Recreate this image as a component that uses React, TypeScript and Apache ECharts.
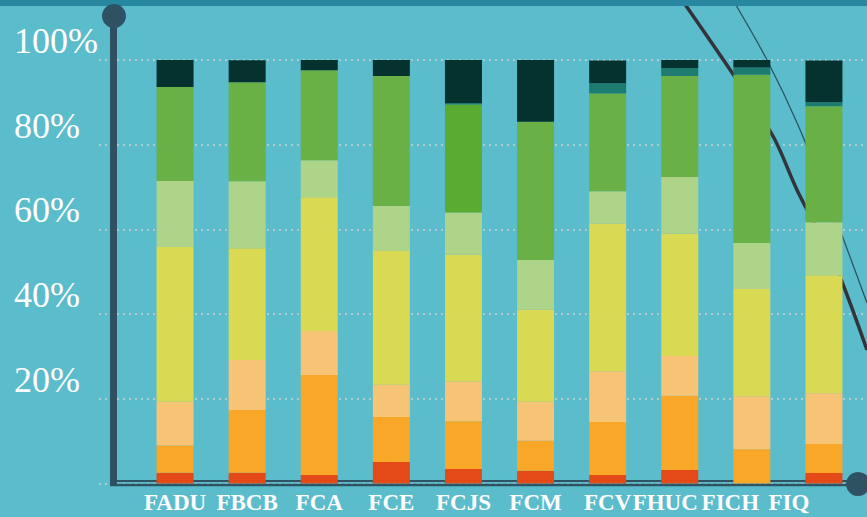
import React, { useEffect, useRef } from "react";
import * as echarts from "echarts";

const categories = ["FADU", "FBCB", "FCA", "FCE", "FCJS", "FCM", "FCV", "FHUC", "FICH", "FIQ"];
const yTicks = [0, 20, 40, 60, 80, 100];

const redValues = [2.55, 2.55, 2.0, 5.1, 3.4, 3.0, 2.0, 3.2, 0, 2.5];
const orangeValues = [6.4, 14.8, 23.6, 10.6, 11.3, 7.1, 12.5, 17.5, 8.1, 6.8];
const lightOrangeValues = [10.4, 11.8, 10.4, 7.6, 9.4, 9.2, 12.0, 9.4, 12.5, 12.0];
const yellowValues = [36.5, 26.4, 31.6, 31.6, 30.0, 21.7, 34.9, 28.9, 25.3, 27.9];
const lightGreenValues = [15.6, 15.8, 8.7, 10.6, 9.9, 11.8, 7.6, 13.4, 10.9, 12.5];
const greenValues = [22.2, 23.4, 21.3, 30.7, 25.5, 32.6, 23.1, 23.8, 39.7, 27.4];
const tealValues = [0, 0, 0, 0, 0.3, 0, 2.4, 1.9, 1.7, 0.9];
const darkValues = [6.4, 5.2, 2.4, 3.8, 10.2, 14.6, 5.4, 1.9, 1.9, 9.9];

const seriesDefs = [
  { name: "red", values: redValues, color: "#e34a17" },
  { name: "orange", values: orangeValues, color: "#f8a727" },
  { name: "lightOrange", values: lightOrangeValues, color: "#f7c476" },
  { name: "yellow", values: yellowValues, color: "#d9d953" },
  { name: "lightGreen", values: lightGreenValues, color: "#aed48a" },
  { name: "green", values: greenValues, color: "#69b047" },
  { name: "teal", values: tealValues, color: "#1e7b70" },
  { name: "dark", values: darkValues, color: "#05312e" },
];

// label nudges (px shift to the left) for the crowded right-hand labels
const labelShift: Record<string, number> = { FHUC: 29, FICH: 43, FIQ: 70 };

export default function App() {
  const ref = useRef<HTMLDivElement>(null);
  useEffect(() => {
    if (!ref.current) return;
    const chart = echarts.init(ref.current, null, { renderer: "svg" });
    const top = 60;
    const bottom = 33.5;
    const option: any = {
      animation: false,
      backgroundColor: "#5bbccc",
      grid: [
        { left: 99, right: 0, top, bottom },
        { left: 139, right: 7, top, bottom },
      ],
      xAxis: [
        { type: "category", gridIndex: 0, data: [""], show: false },
        {
          type: "category",
          gridIndex: 1,
          data: categories.map((c) =>
            labelShift[c] ? { value: c, textStyle: { padding: [0, labelShift[c], 0, 0] } } : c
          ),
          axisLine: { show: false },
          axisTick: { show: false },
          axisLabel: {
            interval: 0,
            color: "#ffffff",
            fontFamily: "Liberation Serif",
            fontWeight: "bold",
            fontSize: 23,
            margin: 7,
          },
        },
      ],
      yAxis: [
        {
          type: "value",
          gridIndex: 0,
          min: yTicks[0],
          max: yTicks[yTicks.length - 1],
          interval: 20,
          axisLine: { show: false },
          axisTick: { show: false },
          axisLabel: {
            formatter: (v: number) => (v === 0 ? "" : v + "%"),
            color: "#ffffff",
            fontFamily: "Liberation Serif",
            fontSize: 36,
            align: "left",
            verticalAlign: "bottom",
            lineHeight: 38,
            margin: 85,
          },
          splitLine: {
            lineStyle: { color: "#c9d2d4", type: [2, 4], width: 1.5 },
          },
        },
        { type: "value", gridIndex: 1, min: 0, max: 100, show: false, splitLine: { show: false } },
      ],
      graphic: [
        // decorative diagonal lines (behind bars)
        {
          type: "polyline",
          z: 1,
          shape: { points: [[682, 0], [737, 80], [774, 138], [797, 190], [835, 265], [867, 350]], smooth: 0.3 },
          style: { stroke: "#33343a", lineWidth: 3.5, fill: null },
        },
        {
          type: "polyline",
          z: 1,
          shape: { points: [[733, 0], [767, 60], [798, 125], [835, 217], [867, 303]], smooth: 0.3 },
          style: { stroke: "#2b5763", lineWidth: 1.3, fill: null },
        },
        { type: "line", z: 1, shape: { x1: 110, y1: 481, x2: 858, y2: 481 }, style: { stroke: "#2f5565", lineWidth: 2 } },
        // foreground decorations
        { type: "rect", z: 10, shape: { x: 0, y: 0, width: 867, height: 6 }, style: { fill: "#2787a1" } },
        { type: "line", z: 10, shape: { x1: 110, y1: 485, x2: 858, y2: 485 }, style: { stroke: "#2f5565", lineWidth: 2.5 } },
        { type: "rect", z: 10, shape: { x: 110, y: 16, width: 7, height: 470 }, style: { fill: "#2f5060" } },
        { type: "circle", z: 10, shape: { cx: 114, cy: 16, r: 12 }, style: { fill: "#2f5262" } },
        { type: "circle", z: 10, shape: { cx: 858, cy: 484, r: 12 }, style: { fill: "#2f5262" } },
      ],
      series: seriesDefs.map((s) => ({
        name: s.name,
        type: "bar",
        stack: "total",
        xAxisIndex: 1,
        yAxisIndex: 1,
        barWidth: 37,
        z: 2,
        itemStyle: { color: s.color },
        data:
          s.name === "green"
            ? s.values.map((v, i) => (categories[i] === "FCJS" ? { value: v, itemStyle: { color: "#5aab31" } } : v))
            : s.values,
      })),
    };
    chart.setOption(option);
    return () => chart.dispose();
  }, []);
  return (
    <div
      ref={ref}
      style={{ position: "fixed", left: 0, top: 0, width: 867, height: 517 }}
    />
  );
}
